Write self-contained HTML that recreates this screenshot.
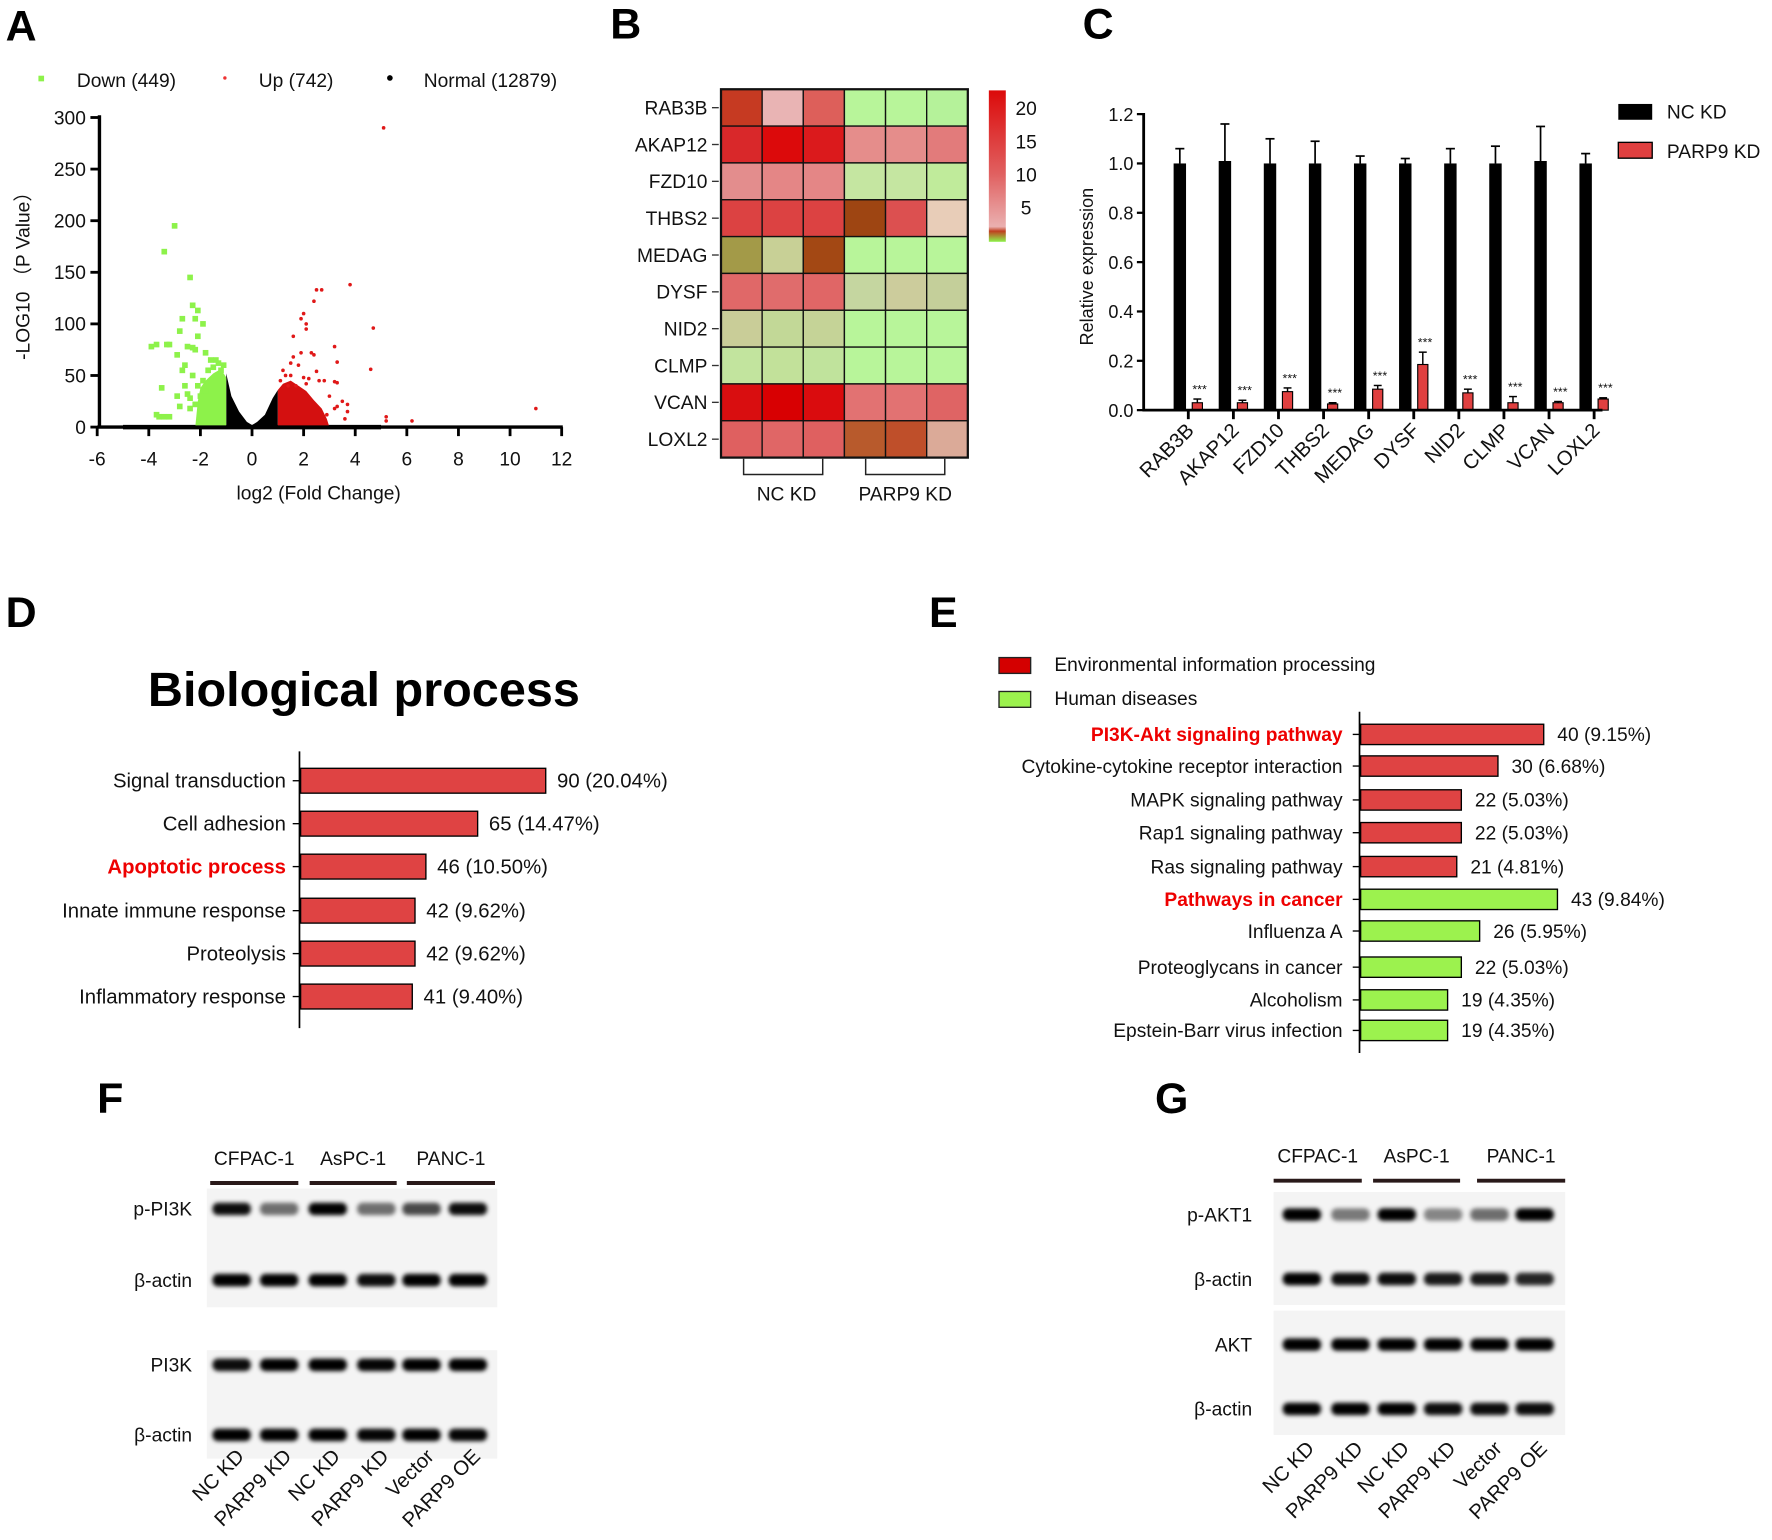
<!DOCTYPE html>
<html><head><meta charset="utf-8"><style>
html,body{margin:0;padding:0;background:#fff}
svg{display:block;font-family:"Liberation Sans",Arial,sans-serif}
</style></head><body>
<svg id="fig" width="1772" height="1540" viewBox="0 0 1568 1363" preserveAspectRatio="none" xmlns="http://www.w3.org/2000/svg">
<defs><filter id="blur" x="-30%" y="-100%" width="160%" height="300%"><feGaussianBlur stdDeviation="2"/></filter></defs>
<g id="root"></g>
</svg>
<script>
// ---------- Panel A data ----------
const greenX=[-3,-3.4,-2.4,-2.3,-2.1,-2.7,-2.2,-1.9,-2.8,-2.1,-3.9,-3.7,-3.3,-3.2,-2.5,-2.3,-2.2,-1.8,-2.9,-1.6,-1.4,-1.1,-2.6,-2.7,-2.3,-3.5,-2.5,-2.9,-2.8,-3.7,-3.6,-3.4,-3.2,-2.4,-1.9,-1.7,-1.5,-2.1,-2.0,-1.8,-2.6,-1.3,-1.2,-2.4,-2.2];
const greenY=[195,170,145,118,113,105,105,100,93,88,78,80,80,80,78,77,75,72,70,65,65,60,60,55,50,38,32,30,20,12,10,10,10,18,45,55,58,40,30,35,40,62,55,28,22];
const greenEnvX=[-2.2,-2.1,-2.0,-1.8,-1.5,-1.3,-1.1,-1.0,-1.0];
const greenEnvY=[0,25,38,45,52,55,52,48,0];
const redX=[5.1,3.8,2.5,2.7,2.4,2.0,1.9,2.1,2.1,4.7,1.6,3.2,1.9,2.3,2.4,1.6,1.5,3.3,1.8,4.6,1.2,2.5,1.5,2.0,2.2,1.1,2.6,2.8,3.2,3.3,2.1,1.7,3.0,3.5,3.7,3.3,3.2,3.7,5.2,5.2,6.2,11,3.6,2.9,1.3,1.4];
const redY=[290,138,133,133,122,110,105,100,95,96,88,78,72,72,70,68,62,63,60,56,55,54,50,48,47,45,45,45,44,43,42,40,30,25,22,20,18,15,10,6,6,18,8,12,50,40];
const redEnvX=[1.0,1.0,1.2,1.5,1.8,2.1,2.4,2.7,2.9,3.0];
const redEnvY=[0,36,42,45,40,35,26,18,8,0];
const blackEnvX=[-1.0,-1.0,-0.8,-0.5,-0.2,0,0.2,0.5,0.8,1.0,1.0];
const blackEnvY=[0,52,30,15,5,2,5,12,28,36,0];
const xTicksA=[-6,-4,-2,0,2,4,6,8,10,12];
const yTicksA=[0,50,100,150,200,250,300];
// ---------- Panel B data ----------
const genes=["RAB3B","AKAP12","FZD10","THBS2","MEDAG","DYSF","NID2","CLMP","VCAN","LOXL2"];
const heatColors=[
["#c63a22","#e9b4b4","#dd5f5a","#b8f59a","#b8f59a","#b5f29a"],
["#d9282a","#dc0a0b","#db1a1c","#e58d8b","#e58d8b","#e27b7b"],
["#e38d8d","#e48686","#e48686","#c5e6a1","#c5e6a1","#c0eb9b"],
["#dc4242","#dc4242","#dc4242","#9e4512","#dc5050","#e8cdb8"],
["#a39a48","#c8d096","#a34814","#b8f59a","#b8f59a","#b8f59a"],
["#e06868","#e06c6c","#e06666","#c5d6a0","#cccc9c","#c4cf9a"],
["#c9cd98","#c2d897","#c5d397","#b8f59a","#b8f59a","#b8f59a"],
["#c2e49e","#c2e19a","#c0e39c","#b8f59a","#b8f59a","#b8f59a"],
["#d90e10","#d80002","#da0c0e","#e27272","#e27272","#df6464"],
["#df6060","#e06666","#df6060","#b85a2c","#bf4f2a","#dbaa98"]];
const cbTicks=[20,15,10,5];
// ---------- Panel C data ----------
const ncVals=[1.0,1.01,1.0,1.0,1.0,1.0,1.0,1.0,1.01,1.0];
const ncErr=[0.06,0.15,0.10,0.09,0.03,0.02,0.06,0.07,0.14,0.04];
const kdVals=[0.03,0.03,0.075,0.025,0.085,0.185,0.07,0.03,0.03,0.045];
const kdErr=[0.015,0.01,0.015,0.005,0.015,0.05,0.015,0.025,0.005,0.005];
const yTicksC=[0,0.2,0.4,0.6,0.8,1.0,1.2];
// ---------- Panel D data ----------
const bpTerms=["Signal transduction","Cell adhesion","Apoptotic process","Innate immune response","Proteolysis","Inflammatory response"];
const bpCounts=[90,65,46,42,42,41];
const bpPct=["20.04%","14.47%","10.50%","9.62%","9.62%","9.40%"];
// ---------- Panel E data ----------
const kgTerms=["PI3K-Akt signaling pathway","Cytokine-cytokine receptor interaction","MAPK signaling pathway","Rap1 signaling pathway","Ras signaling pathway","Pathways in cancer","Influenza A","Proteoglycans in cancer","Alcoholism","Epstein-Barr virus infection"];
const kgCounts=[40,30,22,22,21,43,26,22,19,19];
const kgPct=["9.15%","6.68%","5.03%","5.03%","4.81%","9.84%","5.95%","5.03%","4.35%","4.35%"];
const kgCat=[0,0,0,0,0,1,1,1,1,1];
// ---------- Blot data (band intensities) ----------
const laneNames=["NC KD","PARP9 KD","NC KD","PARP9 KD","Vector","PARP9 OE"];
const fRows=["p-PI3K","β-actin","PI3K","β-actin"];
const fInt=[[0.95,0.55,1,0.55,0.7,0.95],[1,1,1,0.95,1,1],[0.95,1,1,0.98,1,1],[1,1,1,0.98,1,0.98]];
const gRows=["p-AKT1","β-actin","AKT","β-actin"];
const gInt=[[1,0.5,1,0.45,0.55,1],[1,0.95,0.95,0.9,0.9,0.85],[1,1,1,1,1,1],[1,1,1,0.95,0.95,0.95]];

const NS="http://www.w3.org/2000/svg";
const root=document.getElementById('root');
function mk(tag,attrs,parent,text){const e=document.createElementNS(NS,tag);for(const k in attrs)e.setAttribute(k,attrs[k]);if(text!==undefined)e.textContent=text;(parent||root).appendChild(e);return e;}
function grp(name){const g=mk('g',{});return g;}
function txt(p,x,y,s,size,anchor,extra){const t=mk('text',Object.assign({x:x,y:y,'font-size':size,'text-anchor':anchor||'start',fill:'#111'},extra||{}),p,s);return t;}

[["A",5,36],["B",540,34],["C",958,34],["D",5,555],["E",822,555],["F",86,985],["G",1022,985]].forEach(l=>{const t=txt(root,l[1],l[2],l[0],38,'start',{'font-weight':'bold',fill:'#000'});});

// ---------- A volcano ----------
(function(){
const g=grp('volcano-plot');
const xs=v=>86+(v+6)*(411/18), ys=v=>378-v*(274/300);
const leg=grp('volcano-legend');g.appendChild(leg);
mk('rect',{x:34,y:67,width:5,height:5,fill:'#8df24a'},leg);txt(leg,68,77,'Down (449)',17);
mk('circle',{cx:199,cy:69,r:1.5,fill:'#e33'},leg);txt(leg,229,77,'Up (742)',17);
mk('circle',{cx:345,cy:69,r:2.5,fill:'#000'},leg);txt(leg,375,77,'Normal (12879)',17);
mk('path',{d:'M'+xs(-5)+' '+ys(0)+' L'+xs(5)+' '+ys(0),stroke:'#000','stroke-width':4},g);
const poly=(X,Y,c,n)=>{const p=mk('polygon',{points:X.map((x,i)=>xs(x)+','+ys(Y[i])).join(' '),fill:c},g);};
poly(blackEnvX,blackEnvY,'#000','normal-cluster');
poly(greenEnvX,greenEnvY,'#8df24a','down-cluster');
poly(redEnvX,redEnvY,'#d41010','up-cluster');
greenX.forEach((x,i)=>{const r=mk('rect',{x:xs(x)-2.5,y:ys(greenY[i])-2.5,width:5,height:5,fill:'#8df24a'},g);});
redX.forEach((x,i)=>{const c=mk('circle',{cx:xs(x),cy:ys(redY[i]),r:1.6,fill:'#e01818'},g);});
mk('line',{x1:88,y1:102,x2:88,y2:379,stroke:'#000','stroke-width':3},g);
mk('line',{x1:86,y1:378,x2:498,y2:378,stroke:'#000','stroke-width':3},g);
yTicksA.forEach(v=>{mk('line',{x1:80,y1:ys(v),x2:88,y2:ys(v),stroke:'#000','stroke-width':2.5},g);txt(g,76,ys(v)+6,String(v),17,'end');});
xTicksA.forEach(v=>{mk('line',{x1:xs(v),y1:378,x2:xs(v),y2:386,stroke:'#000','stroke-width':2.5},g);txt(g,xs(v),412,String(v),17,'middle');});
txt(g,282,442,'log2 (Fold Change)',17,'middle');
txt(g,0,0,'-LOG10 （P Value）',17,'middle',{transform:'translate(26,240) rotate(-90)'});
})();

// ---------- B heatmap ----------
(function(){
const g=grp('heatmap');
const x0=638,y0=79,cw=36.4,ch=32.6;
heatColors.forEach((row,r)=>{row.forEach((c,j)=>{const e=mk('rect',{x:x0+j*cw,y:y0+r*ch,width:cw,height:ch,fill:c,stroke:'#111','stroke-width':1.2},g);});
 mk('line',{x1:630,y1:y0+r*ch+ch/2,x2:636,y2:y0+r*ch+ch/2,stroke:'#333','stroke-width':1.2},g);
 txt(g,626,y0+r*ch+ch/2+6,genes[r],17,'end');});
mk('rect',{x:x0,y:y0,width:cw*6,height:ch*10,fill:'none',stroke:'#111','stroke-width':2},g);
mk('path',{d:'M658 406 V420 H728 V406 M766 406 V420 H836 V406',fill:'none',stroke:'#222','stroke-width':1.3},g);
txt(g,696,443,'NC KD',17,'middle');txt(g,801,443,'PARP9 KD',17,'middle');
const cb=grp('color-scale');g.appendChild(cb);
const lg=mk('linearGradient',{id:'cbg',x1:0,y1:0,x2:0,y2:1},document.querySelector('defs'));
[['0','#dc0a0a'],['0.55','#e06060'],['0.9','#eab0b0'],['0.93','#c04020'],['1','#8df24a']].forEach(s=>mk('stop',{offset:s[0],'stop-color':s[1]},lg));
mk('rect',{x:875,y:80,width:15,height:134,fill:'url(#cbg)'},cb);
cbTicks.forEach(v=>txt(cb,908,184-(v-5)*((184-96)/15)+6,String(v),17,'middle'));
})();

// ---------- C bars ----------
(function(){
const g=grp('expression-bar-chart');
const ys=v=>363-v*(262/1.2), gx=i=>1044+i*39.9;
ncVals.forEach((v,i)=>{
 const c=gx(i);
 mk('line',{x1:c,y1:ys(v),x2:c,y2:ys(v+ncErr[i]),stroke:'#000','stroke-width':1.5},g);
 mk('line',{x1:c-4,y1:ys(v+ncErr[i]),x2:c+4,y2:ys(v+ncErr[i]),stroke:'#000','stroke-width':1.5},g);
 const b=mk('rect',{x:c-5.5,y:ys(v),width:11,height:ys(0)-ys(v),fill:'#000'},g);
 const k=kdVals[i],r=c+15.5;
 mk('line',{x1:r,y1:ys(k),x2:r,y2:ys(k+kdErr[i]),stroke:'#000','stroke-width':1.3},g);
 mk('line',{x1:r-3.5,y1:ys(k+kdErr[i]),x2:r+3.5,y2:ys(k+kdErr[i]),stroke:'#000','stroke-width':1.3},g);
 const b2=mk('rect',{x:r-4.5,y:ys(k),width:9,height:ys(0)-ys(k),fill:'#e04040',stroke:'#000','stroke-width':1},g);
 txt(g,r+2,ys(k+kdErr[i])-5,'***',11,'middle');
 const m=c+7.5;
 mk('line',{x1:m,y1:363,x2:m,y2:371,stroke:'#000','stroke-width':2.5},g);
 txt(g,0,0,genes[i],18,'end',{transform:'translate('+(m+6)+',382) rotate(-45)'});
});
mk('line',{x1:1012,y1:100,x2:1012,y2:364,stroke:'#000','stroke-width':2.5},g);
mk('line',{x1:1011,y1:363,x2:1418,y2:363,stroke:'#000','stroke-width':2.5},g);
yTicksC.forEach(v=>{mk('line',{x1:1006,y1:ys(v),x2:1012,y2:ys(v),stroke:'#000','stroke-width':2},g);txt(g,1003,ys(v)+6,v.toFixed(1),16,'end');});
txt(g,0,0,'Relative expression',16,'middle',{transform:'translate(967,236) rotate(-90)'});
const lg=grp('bar-legend');g.appendChild(lg);
mk('rect',{x:1432,y:92,width:30,height:14,fill:'#000'},lg);txt(lg,1475,105,'NC KD',17);
mk('rect',{x:1432,y:126,width:30,height:14,fill:'#e04040',stroke:'#000','stroke-width':1.2},lg);txt(lg,1475,140,'PARP9 KD',17);
})();

// ---------- D ----------
(function(){
const g=grp('biological-process-chart');
txt(g,322,625,'Biological process',43,'middle',{'font-weight':'bold',fill:'#000'});
const yc=[691,729,767,806,844,882],xs=v=>266+v*2.41;
mk('line',{x1:265,y1:665,x2:265,y2:910,stroke:'#000','stroke-width':1.5},g);
bpTerms.forEach((t,i)=>{
 const b=mk('rect',{x:266,y:yc[i]-11,width:xs(bpCounts[i])-266,height:22,fill:'#df4343',stroke:'#000','stroke-width':1.2},g);
 mk('line',{x1:259,y1:yc[i],x2:265,y2:yc[i],stroke:'#000','stroke-width':1.2},g);
 const red=t==="Apoptotic process";
 txt(g,253,yc[i]+6,t,18,'end',red?{fill:'#e00',"font-weight":'bold'}:{});
 txt(g,xs(bpCounts[i])+10,yc[i]+6,bpCounts[i]+' ('+bpPct[i]+')',18);
});
})();

// ---------- E ----------
(function(){
const g=grp('kegg-pathway-chart');
mk('rect',{x:884,y:582,width:28,height:14,fill:'#d40000',stroke:'#222','stroke-width':1.2},g);txt(g,933,594,'Environmental information processing',17);
mk('rect',{x:884,y:612,width:28,height:14,fill:'#9cf24e',stroke:'#222','stroke-width':1.2},g);txt(g,933,624,'Human diseases',17);
const yc=[650,678,708,737,767,796,824,856,885,912],xs=v=>1204+v*4.05;
mk('line',{x1:1203,y1:630,x2:1203,y2:932,stroke:'#000','stroke-width':1.5},g);
kgTerms.forEach((t,i)=>{
 const b=mk('rect',{x:1204,y:yc[i]-9,width:xs(kgCounts[i])-1204,height:18,fill:kgCat[i]?'#9cf24e':'#df4343',stroke:'#000','stroke-width':1.2},g);
 mk('line',{x1:1197,y1:yc[i],x2:1203,y2:yc[i],stroke:'#000','stroke-width':1.2},g);
 const red=(i===0||i===5);
 txt(g,1188,yc[i]+6,t,17,'end',red?{fill:'#e00','font-weight':'bold'}:{});
 txt(g,xs(kgCounts[i])+12,yc[i]+6,kgCounts[i]+' ('+kgPct[i]+')',17);
});
})();

// ---------- Blots ----------
function blot(name,lanes,groups,groupLabels,barY,panels,rows,rowY,ints,labelX,laneLabelY){
 const g=grp(name);
 panels.forEach(p=>mk('rect',{x:p[0],y:p[1],width:p[2],height:p[3],fill:'#f4f4f4'},g));
 groups.forEach((gr,i)=>{mk('line',{x1:gr[0],y1:barY,x2:gr[1],y2:barY,stroke:'#2a1a1a','stroke-width':3.5},g);txt(g,(gr[0]+gr[1])/2,barY-16,groupLabels[i],17,'middle');});
 rows.forEach((r,ri)=>{
  txt(g,labelX,rowY[ri]+6,r,17,'end');
  lanes.forEach((lx,li)=>{const b=mk('rect',{x:lx-17,y:rowY[ri]-5.5,width:34,height:11,rx:5,fill:'#000','fill-opacity':ints[ri][li],filter:'url(#blur)'},g);});
 });
 lanes.forEach((lx,li)=>txt(g,0,0,laneNames[li],18,'end',{transform:'translate('+(lx+12)+','+laneLabelY+') rotate(-45)'}));
}
blot('western-blot-f',[205,247,290,333,373,414],[[186,264],[274,351],[360,438]],["CFPAC-1","AsPC-1","PANC-1"],1047,
 [[183,1052,257,105],[183,1195,257,96]],fRows,[1070,1133,1208,1270],fInt,170,1290);
blot('western-blot-g',[1152,1195,1236,1277,1318,1358],[[1127,1205],[1215,1292],[1307,1385]],["CFPAC-1","AsPC-1","PANC-1"],1045,
 [[1127,1055,258,100],[1127,1160,258,110]],gRows,[1075,1132,1190,1247],gInt,1108,1283);
</script>
</body></html>
